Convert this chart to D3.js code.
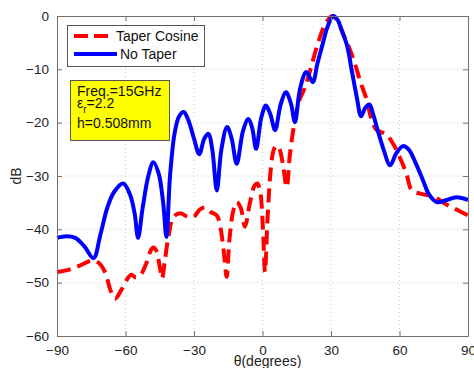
<!DOCTYPE html>
<html>
<head>
<meta charset="utf-8">
<script src="https://cdn.jsdelivr.net/npm/d3@7"></script>
<style>
  body { margin: 0; background: #fff; }
</style>
</head>
<body>
<div id="chart"></div>
<script>
const xTicks = [-90, -60, -30, 0, 30, 60, 90];
const yTicks = [0, -10, -20, -30, -40, -50, -60];

const seriesNames = ['Taper Cosine', 'No Taper'];

const taperDeg = [-90, -85, -80, -75, -72, -69, -66.5, -64.6, -62, -59.5, -57.5, -55.5, -53.5, -51, -49, -47.8,
  -46.5, -45, -44, -42.8, -41.2, -39, -36, -33, -30, -27.5, -25, -22.5, -20, -18.5, -17, -15.7, -14.5, -12.8,
  -11.3, -9.5, -7.7, -5.5, -3.5, -2.3, -1, 0.2, 1.1, 2.2, 3.8, 5, 6.2, 7.5, 9, 10.6, 12, 14, 16, 18.5, 21, 24,
  27, 30.5, 33, 35.5, 38, 40.5, 43, 45.5, 47.5, 50, 54, 57, 60, 63, 65.4, 69, 75, 80, 85, 90];
const taperDb = [-48.0, -47.6, -46.8, -45.9, -46.2, -48, -51.5, -53.0, -51.5, -49.5, -48.5, -49.0, -48.6, -46.5,
  -44, -43.4, -44, -47, -49.2, -46, -41.4, -37.7, -37.0, -37.6, -37.6, -36.3, -35.9, -36.8, -37.4, -39.5, -44,
  -48.9, -42, -36.5, -34.9, -36, -39.5, -35, -31.8, -31.4, -33, -40, -48.0, -38, -28, -25, -24.3, -25, -28,
  -32.1, -26, -20, -16, -13.5, -10, -5.5, -2, 0, -1, -3.5, -6, -9, -12.5, -15.5, -19, -21.4, -22.1, -23.8,
  -26.4, -29.5, -32.7, -33.3, -33.9, -35.2, -36.3, -37.4];

const noTaperDeg = [-90, -86, -82, -78, -74, -71, -68, -65, -61, -58, -56, -54.5, -52.5, -50, -47.8, -45.5,
  -43.5, -42.1, -40.5, -38.5, -36.5, -34.5, -32.5, -30, -27.7, -25.5, -23.7, -22, -20, -18, -15.5, -13.5,
  -11.3, -8.5, -6.2, -4.5, -2.8, -0.5, 1.5, 3.5, 5.5, 8, 10.3, 12.5, 14.2, 16.5, 19.2, 22, 24, 26.5, 28.5, 31,
  33, 34.5, 37, 39, 41.2, 43.2, 45, 46.8, 48.5, 50.5, 53, 55.9, 58.5, 61.5, 64, 67, 70, 73, 76.3, 80, 85, 90];
const noTaperDb = [-41.6, -41.3, -41.6, -43.2, -45.4, -41, -36, -33, -31.4, -33.5, -37, -41.6, -36, -30, -27.4,
  -29.5, -35, -41.4, -30, -22, -18.8, -18.0, -19.5, -23, -25.9, -23.0, -22.1, -25, -32.7, -25, -20.8, -23,
  -27.7, -21.5, -19.3, -21, -24.9, -19, -16.8, -18.5, -21.4, -16.5, -14.3, -16.5, -19.9, -13.5, -10.5, -12.4,
  -9, -5, -2, 0, -0.8, -2.5, -5.5, -10, -15, -18.8, -17.2, -16.6, -18.5, -21.5, -25, -28, -25.8, -24.4, -25,
  -27.5, -30.5, -33.5, -34.9, -34.6, -34.0, -34.5];

const notes = ['Freq.=15GHz', 'h=0.508mm'];

const width = 474;
const height = 368;
const margin = { top: 16, right: 6, bottom: 32, left: 57 };

const x = d3.scaleLinear().domain([-90, 90]).range([margin.left, width - margin.right]);
const y = d3.scaleLinear().domain([-60, 0]).range([height - margin.bottom, margin.top]);

const svg = d3.select('#chart')
  .append('svg')
  .attr('width', width)
  .attr('height', height)
  .attr('font-family', 'Liberation Sans, Arial, sans-serif')
  .attr('font-size', 14);

// dotted grid
svg.append('g')
  .attr('stroke', '#c8c8c8')
  .attr('stroke-dasharray', '1,3')
  .selectAll('line.gx')
  .data(xTicks.slice(1, -1))
  .join('line')
  .attr('x1', (d) => x(d))
  .attr('x2', (d) => x(d))
  .attr('y1', y(0))
  .attr('y2', y(-60));
svg.append('g')
  .attr('stroke', '#c8c8c8')
  .attr('stroke-dasharray', '1,3')
  .selectAll('line.gy')
  .data(yTicks.slice(1, -1))
  .join('line')
  .attr('y1', (d) => y(d))
  .attr('y2', (d) => y(d))
  .attr('x1', x(-90))
  .attr('x2', x(90));

const line = (xs, ys) => d3.line()
  .x((d, i) => x(xs[i]))
  .y((d, i) => y(ys[i]))
  .curve(d3.curveCatmullRom.alpha(0.5))(xs);

svg.append('path')
  .attr('d', line(taperDeg, taperDb))
  .attr('fill', 'none')
  .attr('stroke', '#ff0000')
  .attr('stroke-width', 4)
  .attr('stroke-dasharray', '14,7');

svg.append('path')
  .attr('d', line(noTaperDeg, noTaperDb))
  .attr('fill', 'none')
  .attr('stroke', '#0000ff')
  .attr('stroke-width', 4)
  .attr('stroke-linejoin', 'round');

// axes, MATLAB style box with inward ticks
const axisColor = '#707070';
const xAxis = svg.append('g')
  .attr('transform', `translate(0,${y(-60)})`)
  .call(d3.axisBottom(x).tickValues(xTicks).tickSizeInner(-5).tickSizeOuter(0).tickPadding(9));
const yAxis = svg.append('g')
  .attr('transform', `translate(${x(-90)},0)`)
  .call(d3.axisLeft(y).tickValues(yTicks).tickSizeInner(-5).tickSizeOuter(0).tickPadding(8));
svg.append('g')
  .attr('transform', `translate(0,${y(0)})`)
  .call(d3.axisTop(x).tickValues(xTicks).tickSizeInner(-5).tickSizeOuter(0).tickFormat(''));
svg.append('g')
  .attr('transform', `translate(${x(90)},0)`)
  .call(d3.axisRight(y).tickValues(yTicks).tickSizeInner(-5).tickSizeOuter(0).tickFormat(''));
svg.selectAll('.domain, .tick line').attr('stroke', axisColor);
[xAxis, yAxis].forEach((g) => g.selectAll('text')
  .attr('font-size', 13.5)
  .attr('font-family', 'Liberation Sans, Arial, sans-serif')
  .attr('fill', '#222'));

svg.append('text')
  .attr('x', x(0) + 5)
  .attr('y', 366)
  .attr('text-anchor', 'middle')
  .attr('fill', '#222')
  .text('θ(degrees)');
svg.append('text')
  .attr('transform', `translate(21,${(y(0) + y(-60)) / 2}) rotate(-90)`)
  .attr('text-anchor', 'middle')
  .attr('fill', '#222')
  .text('dB');

// legend
const legend = svg.append('g');
legend.append('rect')
  .attr('x', 67.5).attr('y', 25.5)
  .attr('width', 137).attr('height', 41)
  .attr('fill', '#fff')
  .attr('stroke', '#555');
const legendRows = legend.selectAll('g')
  .data(seriesNames)
  .join('g')
  .attr('transform', (d, i) => `translate(0,${36 + i * 18})`);
legendRows.append('line')
  .attr('x1', 74).attr('x2', (d, i) => (i === 0 ? 114 : 117))
  .attr('stroke', (d, i) => (i === 0 ? '#ff0000' : '#0000ff'))
  .attr('stroke-width', 4)
  .attr('stroke-dasharray', (d, i) => (i === 0 ? '14,6' : null));
legendRows.append('text')
  .attr('x', (d, i) => (i === 0 ? 116 : 120))
  .attr('dy', '0.36em')
  .attr('fill', '#111')
  .text((d) => d);

// parameter note
const note = svg.append('g');
note.append('rect')
  .attr('x', 70.5).attr('y', 80.5)
  .attr('width', 99).attr('height', 60)
  .attr('fill', '#ffff00')
  .attr('stroke', '#555');
note.append('text')
  .attr('x', 77).attr('y', 96)
  .attr('fill', '#111')
  .text(notes[0]);
const eps = note.append('text')
  .attr('x', 77).attr('y', 108)
  .attr('fill', '#111');
eps.append('tspan').text('ε');
eps.append('tspan').attr('font-size', 10).attr('dy', 5).text('r');
eps.append('tspan').attr('dy', -5).text('=2.2');
note.append('text')
  .attr('x', 77).attr('y', 128)
  .attr('fill', '#111')
  .text(notes[1]);
</script>
</body>
</html>
